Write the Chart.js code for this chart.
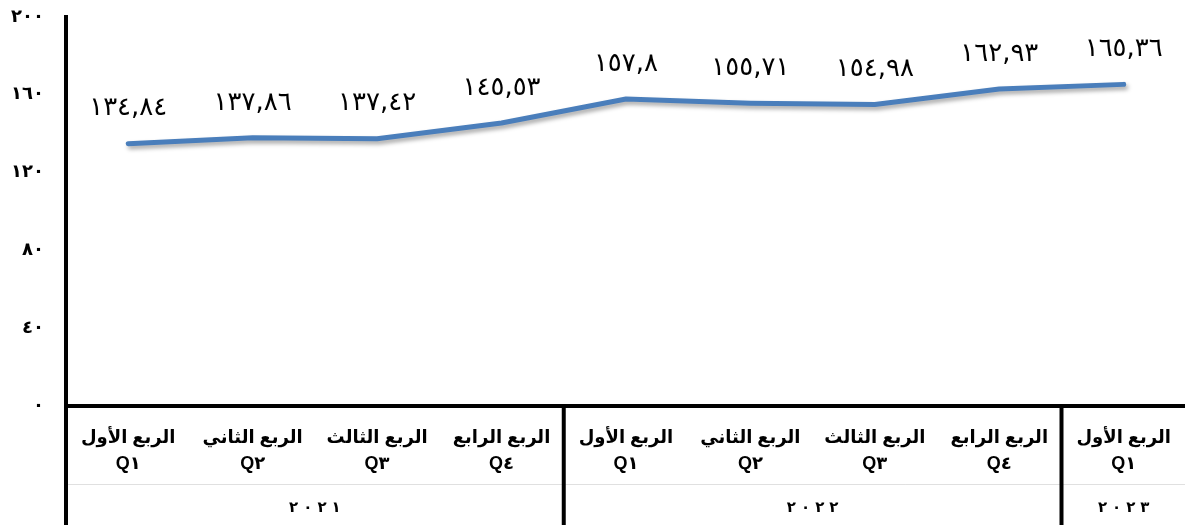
<!DOCTYPE html>
<html>
<head>
<meta charset="utf-8">
<script src="https://cdn.jsdelivr.net/npm/chart.js@4"></script>
<style>
  html, body { margin: 0; padding: 0; background: #fff; overflow: hidden; }
  #wrap { width: 1190px; height: 525px; }
</style>
</head>
<body>
<div id="wrap"><canvas id="quarterChart"></canvas></div>
<script>
const quarterNames = ["الربع الأول", "الربع الثاني", "الربع الثالث", "الربع الرابع"];
const quarterCodes = ["Q١", "Q٢", "Q٣", "Q٤"];
const categories = [
  [quarterNames[0], quarterCodes[0]],
  [quarterNames[1], quarterCodes[1]],
  [quarterNames[2], quarterCodes[2]],
  [quarterNames[3], quarterCodes[3]],
  [quarterNames[0], quarterCodes[0]],
  [quarterNames[1], quarterCodes[1]],
  [quarterNames[2], quarterCodes[2]],
  [quarterNames[3], quarterCodes[3]],
  [quarterNames[0], quarterCodes[0]]
];
const years = ["٢٠٢١", "٢٠٢٢", "٢٠٢٣"];
const yearSpans = [4, 4, 1];
const values = [134.84, 137.86, 137.42, 145.53, 157.8, 155.71, 154.98, 162.93, 165.36];
const yMin = 0;
const yMax = 200;
const yStep = 40;

const ctx = document.getElementById("quarterChart");

// western digits -> arabic-indic
function toArabic(n) {
  return String(n).replace(".", ",").replace(/\d/g, d => "٠١٢٣٤٥٦٧٨٩"[d]);
}

// soft shadow under the line
const lineShadow = {
  id: "lineShadow",
  beforeDatasetsDraw(chart) {
    const c = chart.ctx;
    c.save();
    c.shadowColor = "rgba(0,0,0,0.35)";
    c.shadowBlur = 4;
    c.shadowOffsetX = 2;
    c.shadowOffsetY = 3;
  },
  afterDatasetsDraw(chart) {
    chart.ctx.restore();
  }
};

// value labels above each point
const valueLabels = {
  id: "valueLabels",
  afterDatasetsDraw(chart) {
    const c = chart.ctx;
    const meta = chart.getDatasetMeta(0);
    c.save();
    c.font = "26px 'DejaVu Sans'";
    c.fillStyle = "#000";
    c.textAlign = "center";
    c.textBaseline = "middle";
    meta.data.forEach((pt, i) => {
      c.fillText(toArabic(values[i]), pt.x, pt.y - 35);
    });
    c.restore();
  }
};

// year row + group separators under the x axis
const yearGroups = {
  id: "yearGroups",
  afterDraw(chart) {
    const c = chart.ctx;
    const x = chart.scales.x;
    const area = chart.chartArea;
    const step = x.width / categories.length;
    const bottom = chart.height;
    const gap = 5;

    c.save();
    // faint row divider
    c.strokeStyle = "rgba(0,0,0,0.12)";
    c.lineWidth = 1;
    c.beginPath();
    c.moveTo(area.left, 484.5);
    c.lineTo(area.right, 484.5);
    c.stroke();

    c.strokeStyle = "#000";
    c.lineWidth = 4;
    c.fillStyle = "#000";
    c.font = "bold 15px 'DejaVu Sans'";
    c.textAlign = "left";
    c.textBaseline = "middle";
    let start = 0;
    years.forEach((yr, g) => {
      const left = x.getPixelForValue(start) - step / 2;
      c.beginPath();
      c.moveTo(left, area.bottom);
      c.lineTo(left, bottom);
      c.stroke();
      const end = start + yearSpans[g] - 1;
      const mid = (x.getPixelForValue(start) + x.getPixelForValue(end)) / 2;
      // spaced digits, drawn one by one (digits run left to right)
      const chars = yr.split("");
      const widths = chars.map(ch => c.measureText(ch).width);
      const total = widths.reduce((a, b) => a + b, 0) + gap * (chars.length - 1);
      let cx = mid - total / 2;
      chars.forEach((ch, k) => {
        c.fillText(ch, cx, 508);
        cx += widths[k] + gap;
      });
      start += yearSpans[g];
    });
    c.restore();
  }
};

new Chart(ctx, {
  type: "line",
  data: {
    labels: categories,
    datasets: [{
      label: "values",
      data: values,
      borderColor: "#4a7ebb",
      borderWidth: 5,
      borderCapStyle: "round",
      borderJoinStyle: "round",
      pointRadius: 0,
      pointHoverRadius: 0,
      fill: false,
      tension: 0
    }]
  },
  options: {
    responsive: true,
    maintainAspectRatio: false,
    animation: false,
    layout: {
      padding: { top: 17, right: 0, left: 0, bottom: 0 }
    },
    plugins: {
      legend: { display: false },
      tooltip: { enabled: false }
    },
    scales: {
      x: {
        offset: true,
        grid: { display: true, drawOnChartArea: false, drawTicks: false, color: "transparent" },
        border: { display: true, color: "#000", width: 4 },
        ticks: {
          color: "#000",
          font: { family: "'Liberation Sans', 'DejaVu Sans'", size: 18, weight: "bold", lineHeight: 1.45 },
          padding: 19,
          maxRotation: 0,
          autoSkip: false
        },
        afterFit(scale) {
          scale.height = 119;
        }
      },
      y: {
        min: yMin,
        max: yMax,
        grid: { display: true, drawOnChartArea: false, drawTicks: false, color: "transparent" },
        border: { display: true, color: "#000", width: 4 },
        ticks: {
          stepSize: yStep,
          color: "#000",
          font: { family: "'DejaVu Sans'", size: 18, weight: "bold" },
          padding: 22,
          callback: v => toArabic(v)
        },
        afterFit(scale) {
          scale.width = 66;
          scale.paddingTop = 0;
          scale.paddingBottom = 0;
        }
      }
    }
  },
  plugins: [lineShadow, valueLabels, yearGroups]
});
</script>
</body>
</html>
